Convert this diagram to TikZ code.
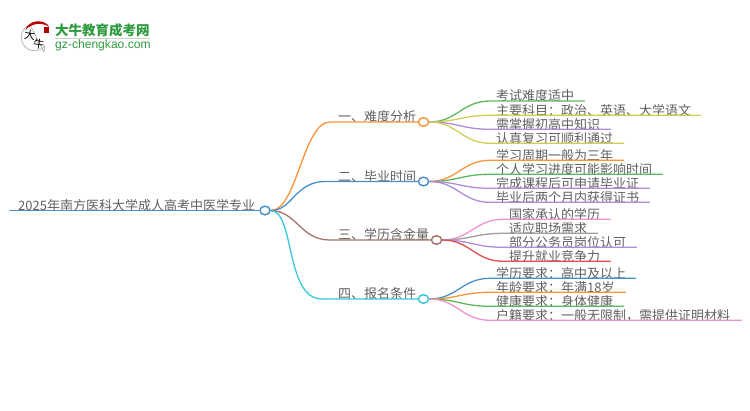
\documentclass[tikz,border=0pt]{standalone}
\usepackage{fontspec}
\setmainfont{Noto Sans CJK SC}
\newfontfamily\logolat{Liberation Sans}
\definecolor{cOrange}{HTML}{F9943B}
\definecolor{cBlue}{HTML}{4A90C8}
\definecolor{cBrown}{HTML}{A5756B}
\definecolor{cCyan}{HTML}{38C6DC}
\definecolor{cGreen}{HTML}{5CB85C}
\definecolor{cYellow}{HTML}{CFCF55}
\definecolor{cPurple}{HTML}{B08CD8}
\definecolor{cPink}{HTML}{EE92D2}
\definecolor{cGray}{HTML}{A0A0A0}
\definecolor{cRed}{HTML}{E05050}
\definecolor{cText}{HTML}{606060}
\definecolor{cLogo}{HTML}{2E9A3E}
\tikzset{
  x=1pt,y=-1pt,
  wire/.style={line width=1.3pt,line cap=round},
  hubnode/.style={circle,draw,line width=1.3pt,fill=white,minimum width=10pt,minimum height=10pt,inner sep=0pt,yscale=0.85},
  lab/.style={anchor=south west,inner sep=0pt,text=cText,font=\fontsize{13}{13}\selectfont,text height=11pt,text depth=0pt},
}
% \leaf{name}{hub}{colour}{y}{xstart}{xend}{indent}{text}
\newcommand{\leaf}[8]{%
  \pgfmathsetmacro{\lw}{#6-#5}
  \node[lab,text width=\lw pt,align=left] (#1) at (#5,#4) {\hspace*{#7pt}#8};
  \draw[wire,#3] (#2.east) .. controls ([xshift=28pt]#2.east) and ([xshift=-28pt]#1.south west) .. (#1.south west) -- (#1.south east);
}
\begin{document}
\begin{tikzpicture}
\useasboundingbox (0,0) rectangle (750,410);

% logo
\fill[white,draw=black!35,line width=0.6pt] (45,46) arc (40:250:13.5) -- (44,52) -- cycle;
\fill[red!75!black] (25.5,30) .. controls (28,20) and (44,18) .. (49.5,27) .. controls (42,22) and (32,23) .. (25.5,30) -- cycle;
\fill[red!70!black] (44,27) rectangle (49,33);
\node[inner sep=0pt,rotate=-8,font=\fontsize{11}{11}\selectfont] (logoa) at (30,35) {大};
\node[inner sep=0pt,rotate=-8,font=\fontsize{11}{11}\selectfont] (logob) at (39,44) {牛};
\node[anchor=west,inner sep=0pt,text=cLogo,font=\fontsize{13.5}{13.5}\selectfont\bfseries] (logoc) at (55,30) {大牛教育成考网};
\draw[black!20,line width=0.5pt] (55,38.5) -- (150,38.5);
\node[anchor=west,inner sep=0pt,text=cLogo,font=\logolat\fontsize{12.1}{12.1}\selectfont] (logod) at (55,45) {gz-chengkao.com};

% root
\node[lab,font=\fontsize{13}{13}\selectfont,text width=249pt,align=left] (root) at (10,210.5) {\hspace*{8pt}2025年南方医科大学成人高考中医学专业};
\node[hubnode,draw=cBlue] (rhub) at (265,210.5) {};
\draw[wire,cBlue] (root.south west) -- (root.south east) -- (rhub.west);

% branch hubs
\node[hubnode,draw=cOrange] (h1) at (423.5,122) {};
\node[hubnode,draw=cBlue] (h2) at (423.5,181.5) {};
\node[hubnode,draw=cBrown] (h3) at (436.5,240) {};
\node[hubnode,draw=cCyan] (h4) at (423.5,299) {};

\node[lab] (b1) at (338,122) {一、难度分析};
\node[lab] (b2) at (338,181.5) {二、毕业时间};
\node[lab] (b3) at (338,240) {三、学历含金量};
\node[lab] (b4) at (338,299) {四、报名条件};

\coordinate (k1) at (330,122);
\coordinate (k2) at (325,181.5);
\coordinate (k3) at (330,240);
\coordinate (k4) at (322,299);

\draw[wire,cOrange] (rhub.east) .. controls (297,211) and (303,122) .. (k1) -- (h1.west);
\draw[wire,cBlue] (rhub.east) .. controls (292,211) and (295,181.5) .. (k2) -- (h2.west);
\draw[wire,cBrown] (rhub.east) .. controls (297,211) and (300,240) .. (k3) -- (h3.west);
\draw[wire,cCyan] (rhub.east) .. controls (295,211) and (285,299) .. (k4) -- (h4.west);

% leaves
\leaf{a1}{h1}{cGreen}{101}{490}{584}{6}{考试难度适中}
\leaf{a2}{h1}{cYellow}{115.3}{490}{700}{6}{主要科目：政治、英语、大学语文}
\leaf{a3}{h1}{cPurple}{129.3}{490}{610}{6}{需掌握初高中知识}
\leaf{a4}{h1}{cYellow}{143.3}{490}{623}{6}{认真复习可顺利通过}

\leaf{c1}{h2}{cOrange}{160.3}{490}{623}{6}{学习周期一般为三年}
\leaf{c2}{h2}{cGreen}{174.3}{490}{662}{6}{个人学习进度可能影响时间}
\leaf{c3}{h2}{cPurple}{188.3}{490}{649}{6}{完成课程后可申请毕业证}
\leaf{c4}{h2}{cPurple}{202.3}{490}{649}{6}{毕业后两个月内获得证书}

\leaf{d1}{h3}{cPink}{219.3}{503}{610}{6}{国家承认的学历}
\leaf{d2}{h3}{cGray}{233.3}{503}{597}{6}{适应职场需求}
\leaf{d3}{h3}{cPurple}{247.3}{503}{636}{6}{部分公务员岗位认可}
\leaf{d4}{h3}{cRed}{261.3}{503}{610}{6}{提升就业竞争力}

\leaf{e1}{h4}{cBlue}{278.3}{490}{635}{6}{学历要求：高中及以上}
\leaf{e2}{h4}{cOrange}{292.3}{490}{625}{6}{年龄要求：年满18岁}
\leaf{e3}{h4}{cGreen}{306.3}{490}{623}{6}{健康要求：身体健康}
\leaf{e4}{h4}{cPink}{320.3}{490}{741}{6}{户籍要求：一般无限制，需提供证明材料}

% redraw hub rings above wires
\node[hubnode,draw=cBlue] at (rhub) {};
\node[hubnode,draw=cOrange] at (h1) {};
\node[hubnode,draw=cBlue] at (h2) {};
\node[hubnode,draw=cBrown] at (h3) {};
\node[hubnode,draw=cCyan] at (h4) {};
\end{tikzpicture}
\end{document}
